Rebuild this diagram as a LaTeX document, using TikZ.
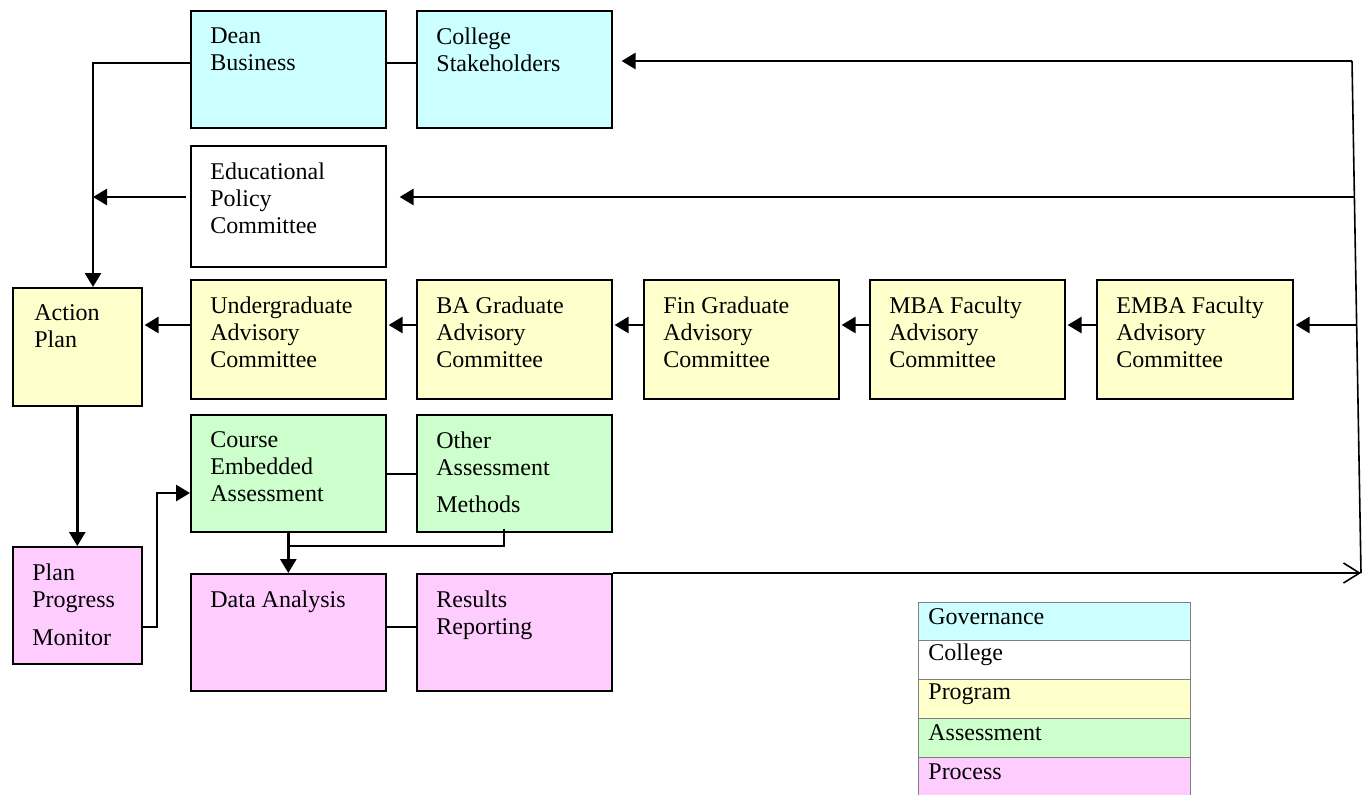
\documentclass[tikz,border=0pt]{standalone}
\usepackage{fontspec}
\setmainfont{Liberation Serif}
\usetikzlibrary{positioning, arrows.meta, calc}
\definecolor{govcyan}{HTML}{CCFFFF}
\definecolor{progyellow}{HTML}{FFFFCC}
\definecolor{assgreen}{HTML}{CCFFCC}
\definecolor{procpink}{HTML}{FFCCFF}
\tikzset{
	unitbox/.style={draw=black, line width=0.8pt, anchor=north west, inner sep=0pt,
			minimum width=97.5pt, minimum height=58.5pt},
	govbox/.style={unitbox, fill=govcyan},
	collbox/.style={unitbox, fill=white, minimum height=60.5pt},
	progbox/.style={unitbox, fill=progyellow, minimum height=59.5pt},
	assbox/.style={unitbox, fill=assgreen},
	procbox/.style={unitbox, fill=procpink}
}
\tikzset{
	boxtext/.style={anchor=north west, inner sep=0pt, align=left, xshift=10pt, yshift=-8.5pt}
}
\tikzset{
	legrow/.style={draw=gray, line width=0.5pt, anchor=north west, minimum width=136pt, minimum height=19.5pt, inner sep=0pt},
	legtext/.style={anchor=west, inner sep=0pt, xshift=5pt, yshift=-7.5pt}
}
\tikzset{
	conn/.style={line width=0.8pt},
	arr/.style={line width=1.4pt, -{Triangle[length=7pt,width=8pt]}}
}

\begin{document}
\begin{tikzpicture}[x=0.5pt, y=-0.5pt, font=\fontsize{12}{13.5}\selectfont]
	\useasboundingbox (0,0) rectangle (1365,794);

	% governance and college
	\node[govbox] (dean) at (190,10) {};
	\node[govbox] (college) at (416,10) {};
	\node[collbox] (edu) at (190,145) {};
	\node[boxtext] (deanT) at (dean.north west) {Dean\\Business};
	\node[boxtext] (collegeT) at (college.north west) {College\\Stakeholders};
	\node[boxtext] (eduT) at (edu.north west) {Educational\\Policy\\Committee};

	% program row
	\node[progbox, minimum width=64.5pt, minimum height=59pt] (action) at (12,287) {};
	\node[progbox] (under) at (190,279) {};
	\node[progbox] (bagrad) at (416,279) {};
	\node[progbox] (fingrad) at (643,279) {};
	\node[progbox] (mbafac) at (869,279) {};
	\node[progbox, minimum width=98pt] (embafac) at (1096,279) {};
	\node[boxtext, xshift=1pt] (actionT) at (action.north west) {Action\\Plan};
	\node[boxtext] (underT) at (under.north west) {Undergraduate\\Advisory\\Committee};
	\node[boxtext] (bagradT) at (bagrad.north west) {BA Graduate\\Advisory\\Committee};
	\node[boxtext] (fingradT) at (fingrad.north west) {Fin Graduate\\Advisory\\Committee};
	\node[boxtext] (mbafacT) at (mbafac.north west) {MBA Faculty\\Advisory\\Committee};
	\node[boxtext] (embafacT) at (embafac.north west) {EMBA Faculty\\Advisory\\Committee};

	% assessment and process
	\node[assbox] (course) at (190,414) {};
	\node[assbox] (other) at (416,414) {};
	\node[procbox, minimum width=64.5pt] (monitor) at (12,546) {};
	\node[procbox] (data) at (190,573) {};
	\node[procbox] (results) at (416,573) {};
	\node[boxtext] (courseT) at (course.north west) {Course\\Embedded\\Assessment};
	\node[boxtext] (otherT) at (other.north west) {Other\\Assessment\\[5pt]Methods};
	\node[boxtext] (monitorT) at (monitor.north west) {Plan\\Progress\\[5.5pt]Monitor};
	\node[boxtext] (dataT) at (data.north west) {Data Analysis};
	\node[boxtext] (resultsT) at (results.north west) {Results\\Reporting};

	% joints
	\coordinate (jA) at (93,63);
	\coordinate (jB) at (93,197);
	\coordinate (rt) at (1352,61);
	\coordinate (re) at (1354,197);
	\coordinate (rm) at (1356,325);
	\coordinate (rb) at (1361,573);
	\coordinate (mc) at (157,627);
	\coordinate (mc2) at (157,493);
	\coordinate (oj) at (504,546);

	\draw[arr] (dean.west |- jA) -- (jA) -- (action.north -| jA);
	\draw[conn] (dean.east |- jA) -- (college.west |- jA);
	\draw[arr] ([xshift=-2pt]edu.west |- jB) -- (jB);

	\draw[conn, -{Straight Barb[length=8pt,width=10pt]}] (results.north east) -- (rb);
	\draw[conn] (rb) -- (rt);
	\draw[arr, shorten >=4.5pt] (rt) -- (college.east |- rt);
	\draw[arr, shorten >=6.5pt] (re) -- (edu.east |- re);
	\draw[arr, shorten >=1pt] (rm) -- (embafac.east |- rm);

	\draw[arr, shorten >=1pt] (embafac.west |- rm) -- (mbafac.east |- rm);
	\draw[arr, shorten >=1pt] (mbafac.west |- rm) -- (fingrad.east |- rm);
	\draw[arr, shorten >=1pt] (fingrad.west |- rm) -- (bagrad.east |- rm);
	\draw[arr, shorten >=1pt] (bagrad.west |- rm) -- (under.east |- rm);
	\draw[arr, shorten >=1pt] (under.west |- rm) -- (action.east |- rm);

	\draw[arr] (action.south) -- (monitor.north);
	\draw[arr] (monitor.east |- mc) -- (mc) -- (mc2) -- (course.west |- mc2);
	\draw[conn] (course.east |- 0,474) -- (other.west |- 0,474);
	\draw[arr] ([yshift=1pt]course.south) -- (data.north);
	\draw[conn] ([yshift=2pt]other.south -| oj) -- (oj) -- (oj -| course.south);
	\draw[conn] (data.east |- mc) -- (results.west |- mc);

	% legend
	\node[legrow, fill=govcyan] (lgov) at (918,602) {};
	\node[legrow, fill=white] (lcoll) at (918,640) {};
	\node[legrow, fill=progyellow] (lprog) at (918,679) {};
	\node[legrow, fill=assgreen] (lass) at (918,718) {};
	\node[legrow, fill=procpink, minimum height=22pt] (lproc) at (918,757) {};
	\node[legtext] (lgovT) at (lgov.north west) {Governance};
	\node[legtext] (lcollT) at (lcoll.north west) {College};
	\node[legtext] (lprogT) at (lprog.north west) {Program};
	\node[legtext] (lassT) at (lass.north west) {Assessment};
	\node[legtext] (lprocT) at (lproc.north west) {Process};

\end{tikzpicture}
\end{document}
